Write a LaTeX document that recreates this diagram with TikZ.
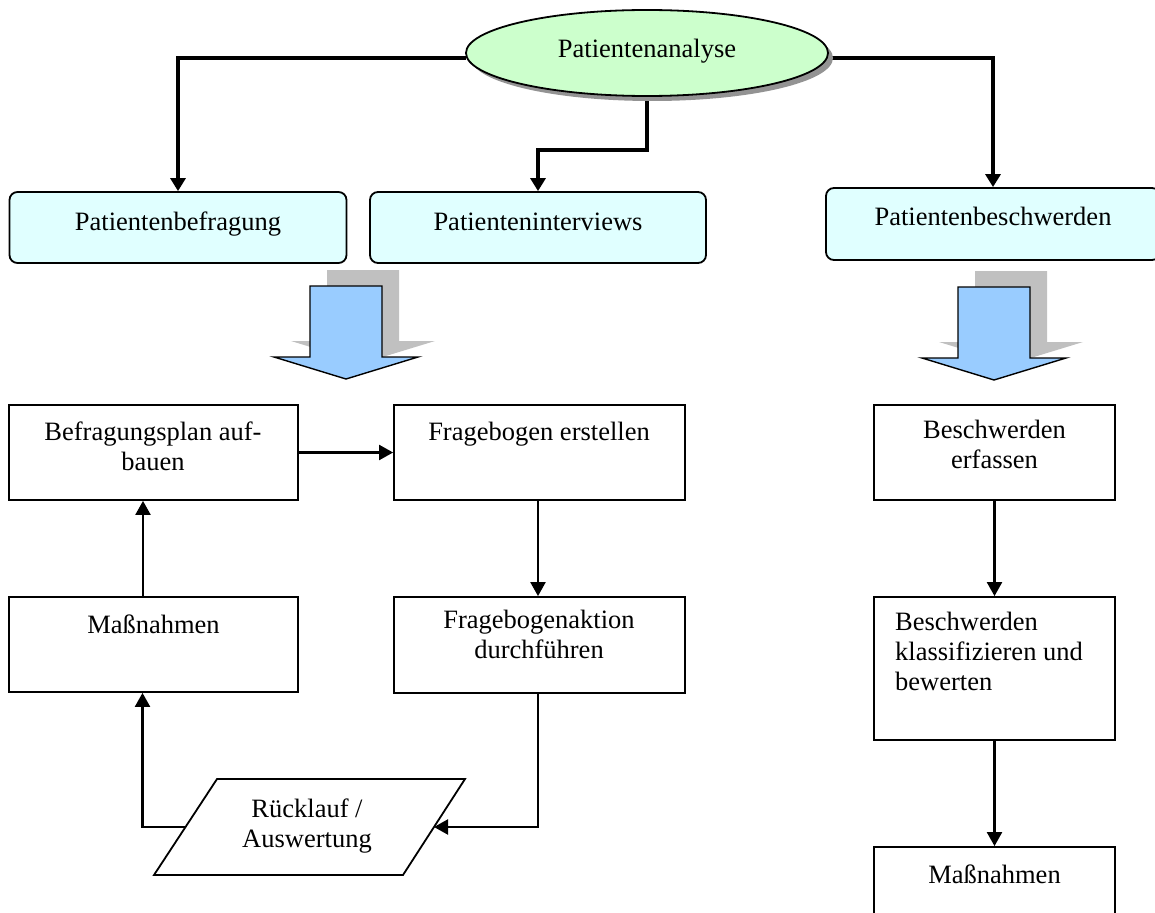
\documentclass[tikz,border=0pt]{standalone}
\usepackage{fontspec}
\setmainfont{Liberation Serif}
\usetikzlibrary{shapes.geometric,arrows.meta,shadows}
\definecolor{elfill}{HTML}{CCFFCC}
\definecolor{topfill}{HTML}{E0FFFF}
\definecolor{blkfill}{HTML}{99CCFF}
\definecolor{shfill}{HTML}{C0C0C0}
\tikzset{
  txt/.style={font=\fontsize{26.5}{30}\selectfont, inner sep=0pt, anchor=north, align=center, execute at begin node={\rule{0pt}{20pt}}},
  txtl/.style={txt, align=left, anchor=north west},
  topbox/.style={draw, line width=1.8pt, rounded corners=8pt, fill=topfill, inner sep=0pt},
  box/.style={draw, line width=1.8pt, fill=white, inner sep=0pt},
  thickarr/.style={line width=3.2pt, -{Triangle[length=13pt,width=15pt]}},
  arr/.style={line width=2.2pt, -{Triangle[length=14pt,width=15pt]}},
  pics/blockarrow/.style={code={
    \fill[shfill] (-19,-109) -- (53,-109) -- (53,-38) -- (89,-38) -- (17,-16) -- (-55,-38) -- (-19,-38) -- cycle;
    \draw[line width=1.4pt, fill=blkfill, line join=miter] (-36,-93) -- (36,-93) -- (36,-22) -- (72,-22) -- (0,0) -- (-72,-22) -- (-36,-22) -- cycle;
  }}
}
\begin{document}
\begin{tikzpicture}[x=1pt,y=-1pt]
\useasboundingbox (0,0) rectangle (1155,912);

% top level nodes
\node[topbox, minimum width=337pt, minimum height=71pt] (pb) at (178,227.5) {};
\node[topbox, minimum width=336pt, minimum height=71pt] (pi) at (538,227.5) {};
\node[topbox, minimum width=334pt, minimum height=72pt] (pw) at (993,224) {};
\node[txt] (tpb) at (178,210) {Patientenbefragung};
\node[txt] (tpi) at (538,210) {Patienteninterviews};
\node[txt] (tpw) at (993,205) {Patientenbeschwerden};

% connectors from ellipse
\coordinate (pal) at (466,58);
\coordinate (par) at (828,58);
\draw[thickarr] (pal) -| (pb.north);
\draw[thickarr] (par) -| (pw.north);
\draw[thickarr] (647,95) -- (647,150) -| (pi.north);

% ellipse
\node[ellipse, draw, line width=1.8pt, fill=elfill, minimum width=362pt, minimum height=86pt, inner sep=0pt,
      drop shadow={shadow xshift=5pt, shadow yshift=-5pt, fill=gray!85, opacity=1}] (pa) at (647,53) {};
\node[txt] (tpa) at (647,37) {Patientenanalyse};

% block arrows
\pic at (346,379) {blockarrow};
\pic at (994,380) {blockarrow};

% left process
\node[box, minimum width=289pt, minimum height=95pt] (bp) at (153.5,452.5) {};
\node[box, minimum width=291pt, minimum height=95pt] (fe) at (539.5,452.5) {};
\node[box, minimum width=289pt, minimum height=95pt] (m1) at (153.5,644.5) {};
\node[box, minimum width=291pt, minimum height=96pt] (fa) at (539.5,645) {};
\node[txt] (tbp) at (153,422) {Befragungsplan auf-\\bauen};
\node[txt] (tfe) at (539,420) {Fragebogen erstellen};
\node[txt] (tm1) at (153.5,613) {Maßnahmen};
\node[txt] (tfa) at (539,610) {Fragebogenaktion\\durchführen};

\draw[line width=1.8pt, fill=white] (217,779) -- (465,779) -- (403,875) -- (154,875) -- cycle;
\node[txt] (trl) at (307,799) {Rücklauf /\\Auswertung};
\coordinate (rlL) at (185.5,827);
\coordinate (rlR) at (434,827);

\draw[arr] (bp.east) -- (fe.west);
\draw[arr] ([xshift=-1.5pt]fe.south) -- ([xshift=-1.5pt]fa.north);
\draw[arr] ([xshift=-1.5pt]fa.south) |- (rlR);
\draw[arr] (rlL) -| ([xshift=-11pt]m1.south);
\draw[arr] ([xshift=-10.5pt]m1.north) -- ([xshift=-10.5pt]bp.south);

% right process
\node[box, minimum width=241pt, minimum height=95pt] (be) at (994.5,452.5) {};
\node[box, minimum width=241pt, minimum height=143pt] (bk) at (994.5,668.5) {};
\node[box, minimum width=241pt, minimum height=95pt] (m2) at (994.5,894.5) {};
\node[txt] (tbe) at (994.5,420) {Beschwerden\\erfassen};
\node[txtl] (tbk) at (895,612) {Beschwerden\\klassifizieren und\\bewerten};
\node[txt] (tm2) at (994.5,863) {Maßnahmen};

\draw[arr] (be.south) -- (bk.north);
\draw[arr] (bk.south) -- (m2.north);
\end{tikzpicture}
\end{document}
